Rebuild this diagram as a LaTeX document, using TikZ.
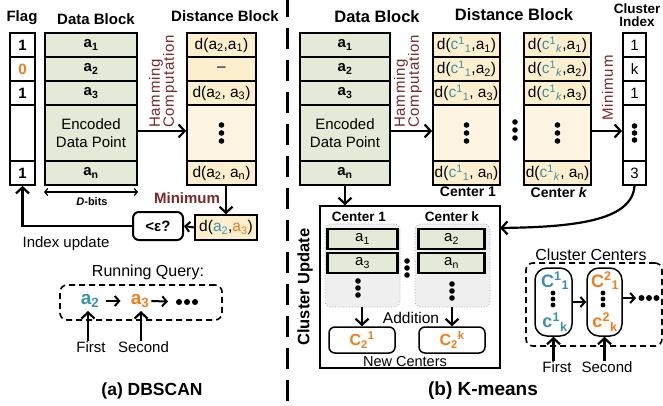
\documentclass[tikz,border=0pt]{standalone}
\usepackage{fontspec}
\setmainfont{Liberation Sans}
\usetikzlibrary{arrows.meta,calc}
\definecolor{greenf}{HTML}{E3EAD7}
\definecolor{yellowf}{HTML}{FCEFCE}
\definecolor{yellowl}{HTML}{FDF5E2}
\definecolor{teal1}{HTML}{3A92AA}
\definecolor{orng}{HTML}{F07D1E}
\definecolor{dred}{HTML}{7A2828}
\definecolor{grayf}{HTML}{EFEFEF}
\newcommand{\Tl}[1]{\textcolor{teal1}{#1}}
\newcommand{\Og}[1]{\textcolor{orng}{#1}}
\newcommand{\Lo}[1]{\textsubscript{#1}}
\newcommand{\Hi}[1]{\textsuperscript{#1}}
\newcommand{\fs}[1]{\fontsize{#1}{#1}\selectfont}
\newcommand{\vdt}[3]{\foreach \dd in {-1,0,1}{\fill ({#1},{#2+\dd*#3}) circle[radius=2.8pt];}}
\newcommand{\hdt}[3]{\foreach \dd in {-1,0,1}{\fill ({#1+\dd*#3},{#2}) circle[radius=3pt];}}
\begin{document}
\begin{tikzpicture}[x=1pt,y=-1pt,
  T/.style={font=\bfseries\fs{15}, inner sep=0pt},
  TR/.style={font=\bfseries\fs{16.5}, inner sep=0pt},
  cellG/.style={draw, line width=1.8pt, fill=greenf, inner sep=0pt, font=\bfseries\fs{15}},
  cellY/.style={draw, line width=1.8pt, fill=yellowf, inner sep=0pt, font=\fs{15.5}},
  cellW/.style={draw, line width=1.8pt, fill=white, inner sep=0pt, font=\fs{15}},
  hA/.style={minimum height=24pt},
  hB/.style={minimum height=56pt},
  arr/.style={line width=2.2pt, -{Straight Barb[length=6pt,width=13pt]}},
  sarr/.style={line width=2pt, -{Straight Barb[length=4.5pt,width=10pt]}},
  txt/.style={inner sep=0pt, font=\fs{15}},
  rot/.style={rotate=90, anchor=west, align=left, inner sep=0pt, text=dred, font=\fontsize{15}{14}\selectfont\addfontfeature{LetterSpace=5}},
  dbox/.style={draw, dashed, dash pattern=on 6pt off 4pt, line width=1.6pt, rounded corners=7pt},
  grp/.style={draw=gray!70, dotted, line width=0.8pt, fill=grayf, rounded corners=6pt},
  nbox/.style={draw, line width=1.5pt, rounded corners=6pt, fill=white, inner sep=0pt, font=\bfseries\fs{16}},
  capsule/.style={draw, line width=1.5pt, rounded corners=12pt, fill=white, inner sep=0pt}
]
\useasboundingbox (0,0) rectangle (663,406);
\fill[white] (0,0) rectangle (663,406);

% ---------------- (a) DBSCAN ----------------
\node[T] (tflag) at (22,18) {Flag};
\node[T] (tdbl) at (96,19) {Data Block};
\node[T] (tdsl) at (225,16) {Distance Block};

\node[cellW, hA, minimum width=25pt, font=\bfseries\fs{15}] (f1) at (22.5,45) {1};
\node[cellW, hA, minimum width=25pt, font=\bfseries\fs{15}, text=orng] (f2) at (22.5,69) {0};
\node[cellW, hA, minimum width=25pt, font=\bfseries\fs{15}] (f3) at (22.5,93) {1};
\node[cellW, hB, minimum width=25pt] (f4) at (22.5,133) {};
\node[cellW, hA, minimum width=25pt, font=\bfseries\fs{15}] (f5) at (22.5,173) {1};

\node[cellG, hA, minimum width=92pt] (d1) at (91,45) {a\Lo{1}};
\node[cellG, hA, minimum width=92pt] (d2) at (91,69) {a\Lo{2}};
\node[cellG, hA, minimum width=92pt] (d3) at (91,93) {a\Lo{3}};
\node[cellG, hB, minimum width=92pt, align=center, font=\fontsize{15}{18}\selectfont] (d4) at (91,133) {Encoded\\Data Point};
\node[cellG, hA, minimum width=92pt] (d5) at (91,173) {a\Lo{n}};

\node[cellY, hA, minimum width=69pt] (y1) at (221.5,45) {d(a\Lo{2},a\Lo{1})};
\node[cellY, hA, minimum width=69pt] (y2) at (221.5,69) {--};
\node[cellY, hA, minimum width=69pt] (y3) at (221.5,93) {d(a\Lo{2}, a\Lo{3})};
\node[cellY, hB, minimum width=69pt, fill=yellowl] (y4) at (221.5,133) {};
\node[cellY, hA, minimum width=69pt] (y5) at (221.5,173) {d(a\Lo{2}, a\Lo{n})};
\vdt{221.5}{133}{8}

\draw[arr] (d4.east |- 0,131) -- (y4.west |- 0,131);
\node[rot] (hamL) at (163,128) {Hamming\\Computation};

\coordinate (dbL) at (44,192);
\coordinate (dbR) at (138,192);
\draw[line width=1.2pt, {Straight Barb[length=3pt,width=7pt]}-{Straight Barb[length=3pt,width=7pt]}] (dbL) -- (dbR);
\node[inner sep=0pt, font=\bfseries\fs{11}] (dbits) at (92,202) {\textit{D}-bits};

\node[draw, line width=1.5pt, fill=yellowf, minimum width=62pt, minimum height=25pt, inner sep=0pt, font=\fs{15.5}] (dmin) at (226,227.5) {d(\Tl{a\Lo{2}},\Og{a\Lo{3}})};
\draw[arr] (y5.south -| dmin.north) -- (dmin.north);
\node[txt, text=dred, font=\bfseries\fs{15}] (minL) at (187,198) {Minimum};

\node[draw, line width=2pt, rounded corners=6pt, minimum width=50pt, minimum height=28pt, inner sep=0pt, font=\bfseries\fs{15}] (eps) at (158,226) {<ε?};
\draw[sarr] (dmin.west) -- (eps.east);
\draw[arr] (eps.west) -| (f5.south);
\node[txt] (iu) at (66,244) {Index update};

\node[txt, font=\fs{16}] (rq) at (148,272) {Running Query:};
\node[dbox, minimum width=162pt, minimum height=35pt] (rqb) at (141,302.5) {};
\node[inner sep=0pt, font=\bfseries\fs{19}, text=teal1] (qa) at (90,301) {a\Lo{2}};
\node[inner sep=0pt, font=\bfseries\fs{19}, text=orng] (qb) at (140,301) {a\Lo{3}};
\coordinate (qd) at (187,302);
\hdt{187}{302}{8}
\draw[sarr, shorten <=7pt, shorten >=10pt] (qa.east) -- (qb.west);
\draw[sarr, shorten <=2pt, shorten >=19pt] (qb.east) -- (qd);
\node[txt] (fst) at (91,347) {First};
\node[txt] (snd) at (143.5,347) {Second};
\coordinate (fstT) at (88,311);
\coordinate (sndT) at (141,311);
\draw[arr] (fst.north -| fstT) -- (fstT);
\draw[arr] (snd.north -| sndT) -- (sndT);

\node[inner sep=0pt, font=\bfseries\fs{17.5}] (capa) at (152,391) {(a) DBSCAN};

% divider
\draw[line width=3pt, dash pattern=on 21pt off 11pt] (287,-4) -- (287,410);

% ---------------- (b) K-means ----------------
\node[TR] (tdbr) at (377,17) {Data Block};
\node[TR] (tdsr) at (514,15) {Distance Block};
\node[inner sep=0pt, font=\bfseries\fontsize{13.5}{12.5}\selectfont, align=center] (tci) at (637,15) {Cluster\\Index};

\node[cellG, hA, minimum width=90pt] (r1) at (345,45) {a\Lo{1}};
\node[cellG, hA, minimum width=90pt] (r2) at (345,69) {a\Lo{2}};
\node[cellG, hA, minimum width=90pt] (r3) at (345,93) {a\Lo{3}};
\node[cellG, hB, minimum width=90pt, align=center, font=\fontsize{15}{18}\selectfont] (r4) at (345,133) {Encoded\\Data Point};
\node[cellG, hA, minimum width=90pt] (r5) at (345,173) {a\Lo{n}};

\node[cellY, hA, minimum width=67pt] (p1) at (466.5,45) {d(\Tl{c\Hi{1}\Lo{1}},a\Lo{1})};
\node[cellY, hA, minimum width=67pt] (p2) at (466.5,69) {d(\Tl{c\Hi{1}\Lo{1}},a\Lo{2})};
\node[cellY, hA, minimum width=67pt] (p3) at (466.5,93) {d(\Tl{c\Hi{1}\Lo{1}}, a\Lo{3})};
\node[cellY, hB, minimum width=67pt, fill=yellowl] (p4) at (466.5,133) {};
\node[cellY, hA, minimum width=67pt] (p5) at (466.5,173) {d(\Tl{c\Hi{1}\Lo{1}}, a\Lo{n})};
\vdt{466.5}{133}{8}
\node[inner sep=0pt, font=\bfseries\fs{14}] (c1l) at (468,192) {Center 1};

\vdt{515}{130}{8}

\node[cellY, hA, minimum width=67pt] (q1) at (557.5,45) {d(\Tl{c\Hi{1}\Lo{\textit{k}}},a\Lo{1})};
\node[cellY, hA, minimum width=67pt] (q2) at (557.5,69) {d(\Tl{c\Hi{1}\Lo{\textit{k}}},a\Lo{2})};
\node[cellY, hA, minimum width=67pt] (q3) at (557.5,93) {d(\Tl{c\Hi{1}\Lo{\textit{k}}},a\Lo{3})};
\node[cellY, hB, minimum width=67pt, fill=yellowl] (q4) at (557.5,133) {};
\node[cellY, hA, minimum width=67pt] (q5) at (557.5,173) {d(\Tl{c\Hi{1}\Lo{\textit{k}}}, a\Lo{n})};
\vdt{557.5}{133}{8}
\node[inner sep=0pt, font=\bfseries\fs{14}] (ckl) at (559,192) {Center \textit{k}};

\node[cellW, hA, minimum width=23pt] (k1) at (634.5,45) {1};
\node[cellW, hA, minimum width=23pt] (k2) at (634.5,69) {k};
\node[cellW, hA, minimum width=23pt] (k3) at (634.5,93) {1};
\node[cellW, hB, minimum width=23pt] (k4) at (634.5,133) {};
\node[cellW, hA, minimum width=23pt] (k5) at (634.5,173) {3};
\vdt{634.5}{133}{7}

\draw[arr] (r4.east |- 0,131) -- (p4.west |- 0,131);
\node[rot] (hamR) at (408,128) {Hamming\\Computation};
\draw[arr] (q4.east |- 0,131) -- (k4.west |- 0,131);
\node[rot] (minR) at (607.5,121) {Minimum};

% cluster update
\node[draw, line width=1.5pt, minimum width=180pt, minimum height=162pt, inner sep=0pt] (cu) at (410,287) {};
\draw[arr] (r5.south) -- (r5.south |- cu.north);
\node[rotate=90, inner sep=0pt, font=\bfseries\fs{16.5}] (cul) at (305,287) {Cluster Update};
\node[inner sep=0pt, font=\bfseries\fs{13.5}] (cu1) at (359,217) {Center 1};
\node[inner sep=0pt, font=\bfseries\fs{13.5}] (cuk) at (452,217) {Center k};
\node[grp, minimum width=75pt, minimum height=83pt] (g1) at (362.5,265.5) {};
\node[grp, minimum width=75pt, minimum height=83pt] (gk) at (452.5,265.5) {};
\node[cellG, line width=2.4pt, minimum width=70pt, minimum height=20pt, font=\fs{15}] (b1) at (362.5,239) {a\Lo{1}};
\node[cellG, line width=2.4pt, minimum width=70pt, minimum height=20pt, font=\fs{15}] (b3) at (362.5,263) {a\Lo{3}};
\node[cellG, line width=2.4pt, minimum width=66pt, minimum height=20pt, font=\fs{15}] (bk2) at (451.5,239) {a\Lo{2}};
\node[cellG, line width=2.4pt, minimum width=66pt, minimum height=20pt, font=\fs{15}] (bkn) at (451.5,263) {a\Lo{n}};
\vdt{358}{288}{7}
\vdt{452}{291}{7}
\vdt{407}{268}{7}
\node[nbox, minimum width=66pt, minimum height=26pt] (n1) at (362,340) {\Og{C\Lo{2}\Hi{1}}};
\node[nbox, minimum width=66pt, minimum height=26pt] (nk) at (452,340) {\Og{C\Lo{2}\Hi{k}}};
\draw[arr] (n1.north |- g1.south) -- (n1.north);
\draw[arr] (nk.north |- gk.south) -- (nk.north);
\node[txt, font=\fs{15.5}] (add) at (411,318) {Addition};
\node[txt, font=\fs{14.5}] (nc) at (405,362) {New Centers};

% curve to cluster update
\coordinate (cuin) at (500,228);
\draw[arr] (k5.south) .. controls (632,222) and (570,227) .. (cuin);

% cluster centers
\node[txt, font=\fs{16}] (cct) at (591,254.5) {Cluster Centers};
\node[dbox, minimum width=136pt, minimum height=83pt] (ccb) at (594,304.5) {};
\node[capsule, minimum width=37pt, minimum height=68pt] (cp1) at (553.5,302) {};
\node[capsule, minimum width=35pt, minimum height=68pt] (cp2) at (604.5,302) {};
\node[inner sep=0pt, font=\bfseries\fs{18}, text=teal1] (c11) at (555,281) {C\Hi{1}\Lo{1}};
\node[inner sep=0pt, font=\bfseries\fs{18}, text=teal1] (c1k) at (555,322) {c\Hi{1}\Lo{k}};
\node[inner sep=0pt, font=\bfseries\fs{18}, text=orng] (c21) at (605,281) {C\Hi{2}\Lo{1}};
\node[inner sep=0pt, font=\bfseries\fs{18}, text=orng] (c2k) at (605,322) {c\Hi{2}\Lo{k}};
\foreach \dd in {-6,0,6}{\fill (553,299+\dd) circle[radius=2.4pt]; \fill (603,299+\dd) circle[radius=2.4pt];}
\draw[sarr] (cp1.east) -- (cp2.west);
\coordinate (ccd) at (649,298);
\draw[sarr, shorten >=13pt] (cp2.east |- ccd) -- (ccd);
\hdt{649}{298}{7.5}
\node[txt] (fst2) at (557,367) {First};
\node[txt] (snd2) at (607,367) {Second};
\draw[arr] (fst2.north -| cp1.south) -- (cp1.south);
\draw[arr] (snd2.north -| cp2.south) -- (cp2.south);

\node[inner sep=0pt, font=\bfseries\fs{19}] (capb) at (483,391) {(b) K-means};
\end{tikzpicture}
\end{document}
